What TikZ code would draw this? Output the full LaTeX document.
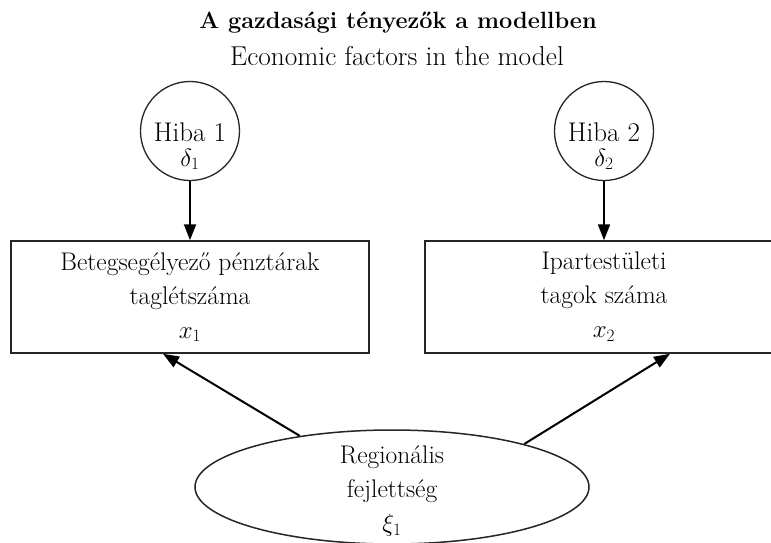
\documentclass[tikz,border=0pt]{standalone}
\usepackage{fontspec}
\usetikzlibrary{arrows.meta,shapes.geometric,calc}

% text sizes used in the diagram
\newcommand\bodyfont{\fontsize{25.5}{34}\selectfont}
\newcommand\errfont{\fontsize{27}{25}\selectfont}

\begin{document}
\begin{tikzpicture}[x=1pt,y=-1pt,
  outline/.style={draw=black!85, line width=1.5pt},
  errnode/.style={circle, outline, line width=1.3pt, minimum size=99pt, inner sep=0pt},
  varnode/.style={rectangle, outline, minimum width=358pt, minimum height=112pt,
                  inner sep=0pt, align=center, font=\bodyfont},
  latentnode/.style={ellipse, outline, minimum width=394pt, minimum height=114pt, inner sep=0pt},
  inner text/.style={align=center, inner sep=0pt},
  patharrow/.style={draw=black, line width=2pt, -{Triangle[length=16pt,width=12pt]}},
]
% page frame
\path[use as bounding box, clip] (0,0) rectangle (771,542);
\fill[white] (0,0) rectangle (771,542);

% heading
\node[font=\fontsize{23.5}{28}\selectfont\bfseries, anchor=base, inner sep=0pt] (title) at (398,28)
  {A gazdasági tényezők a modellben};
\node[font=\fontsize{27.3}{30}\selectfont, anchor=base, inner sep=0pt] (subtitle) at (397,65)
  {Economic factors in the model};

% error terms
\node[errnode] (e1) at (190,131) {};
\node[inner text, font=\errfont] (e1t) at (190,146) {Hiba 1\\$\delta_1$};
\node[errnode] (e2) at (604,131) {};
\node[inner text, font=\errfont] (e2t) at (604,146) {Hiba 2\\$\delta_2$};

% observed variables
\node[varnode] (b1) at (190,297) {Betegsegélyező pénztárak\\taglétszáma\\$x_1$};
\node[varnode] (b2) at (604,297) {Ipartestületi\\tagok száma\\$x_2$};

% latent variable
\node[latentnode] (el) at (392,487) {};
\node[inner text, font=\bodyfont] (elt) at (392,491) {Regionális\\fejlettség\\$\xi_1$};

% arrow targets on the box bottoms
\coordinate (t1) at ($(b1.south)+(-27,0)$);
\coordinate (t2) at ($(b2.south)+(66,0)$);

% paths
\draw[patharrow] (e1.south) -- (b1.north);
\draw[patharrow] (e2.south) -- (b2.north);
\draw[patharrow] (el.151) -- (t1);
\draw[patharrow] (el.18) -- (t2);
\end{tikzpicture}
\end{document}
